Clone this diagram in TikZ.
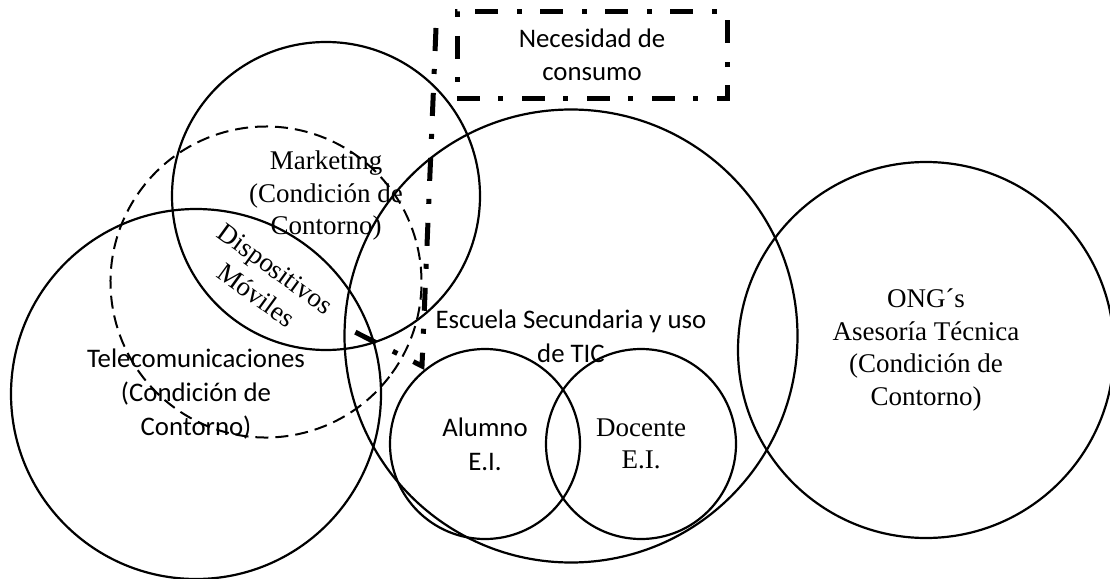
\documentclass[tikz,border=0pt]{standalone}
\usepackage{fontspec}
\setmainfont{Liberation Serif}
\newfontfamily\calibri{Carlito}
\usetikzlibrary{positioning}

\begin{document}
\begin{tikzpicture}[x=1pt,y=-1pt]
	\tikzset{ring/.style={circle,draw,line width=2.2pt,inner sep=0pt,align=center,font=\fontsize{27}{32.5}\selectfont},
		sansring/.style={ring,font=\calibri\fontsize{26.8}{34}\selectfont},
		dashring/.style={ring,dash pattern=on 13pt off 7pt,line width=2pt},
		dashdot/.style={line width=5pt,dash pattern=on 23pt off 18pt on 5pt off 19pt}}
	\useasboundingbox (0,0) rectangle (1110,578);
	\node[sansring,minimum size=370pt] (tele) at (196,394) {Telecomunicaciones\\(Condición de\\Contorno)};
	\node[ring,minimum size=308pt] (mkt) at (326,196) {Marketing\\(Condición de\\Contorno)};
	\node[dashring,minimum size=311pt,rotate=-36] (disp) at (266,282) {Dispositivos\\Móviles};
	\node[sansring,minimum size=453pt] (esc) at (571,336) {Escuela Secundaria y uso\\de TIC};
	\node[sansring,minimum size=190pt] (alum) at (485,444) {Alumno\\E.I.};
	\node[ring,minimum size=190pt] (doc) at (641,444) {Docente\\E.I.};
	\node[ring,minimum size=376pt] (ong) at (926,350) {ONG´s\\Asesoría Técnica\\(Condición de\\Contorno)};
	\node[draw,dashdot,minimum width=270pt,minimum height=86pt,align=center,
		font=\calibri\fontsize{26.8}{33}\selectfont] (need) at (592,55) {Necesidad de\\consumo};
	% linea de consumo
	\coordinate (top) at (436,28);
	\coordinate (bend) at (422,366);
	\coordinate (tip) at (353,331);
	\draw[dashdot] (top) -- (bend) -- (tip);
\end{tikzpicture}
\end{document}
